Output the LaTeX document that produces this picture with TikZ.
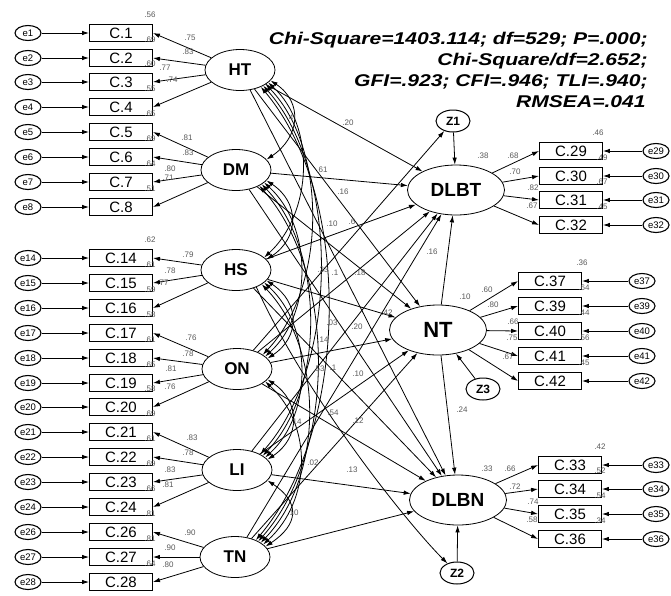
\documentclass[tikz,border=0pt]{standalone}
\usepackage{fontspec}
\setmainfont{Liberation Sans}
\usepackage{graphicx}
\usetikzlibrary{arrows.meta,shapes.geometric}
\begin{document}
\begin{tikzpicture}[x=1pt,y=-1pt,
  line width=0.8pt,
  arr/.style={-{Latex[length=7pt,width=4.5pt]}},
  cov/.style={{Latex[length=7pt,width=4.5pt]}-{Latex[length=7pt,width=4.5pt]}},
  ind/.style={draw,line width=0.9pt,minimum width=63pt,minimum height=17pt,inner sep=0pt,font=\fontsize{15}{15}\selectfont,fill=white},
  err/.style={draw,ellipse,line width=1.1pt,minimum width=26pt,minimum height=15pt,inner sep=0pt,font=\fontsize{9.5}{9.5}\selectfont,fill=white},
  lat/.style={draw,ellipse,line width=0.8pt,minimum width=70pt,minimum height=41pt,inner sep=0pt,font=\bfseries\fontsize{17}{17}\selectfont,fill=white},
  big/.style={lat,minimum width=97pt,minimum height=50pt,font=\bfseries\fontsize{19}{19}\selectfont},
  zz/.style={draw,ellipse,line width=1pt,minimum width=34pt,minimum height=22pt,inner sep=0pt,font=\bfseries\fontsize{12}{12}\selectfont,fill=white},
  sm/.style={font=\fontsize{8}{8}\selectfont,text=black!65,inner sep=0.5pt},
  stat/.style={anchor=base east,inner sep=0pt,font=\bfseries\itshape\fontsize{17}{17}\selectfont}
]
\useasboundingbox (0,0) rectangle (671,595);
% latent variables
\node[lat] (HT) at (240,70) {HT};
\node[lat] (DM) at (236,170) {DM};
\node[lat] (HS) at (236,270) {HS};
\node[lat] (ON) at (237,369) {ON};
\node[lat] (LI) at (237,470) {LI};
\node[lat] (TN) at (235,557) {TN};
\node[big] (DLBT) at (456,190) {DLBT};
\node[big,font=\bfseries\fontsize{22}{22}\selectfont] (NT) at (438,330) {NT};
\node[big] (DLBN) at (458,500) {DLBN};
\node[zz] (Z1) at (453,121) {Z1};
\node[zz] (Z2) at (457,573) {Z2};
\node[zz] (Z3) at (483,389) {Z3};
% left indicators
\foreach \n/\y/\q/\l in {1/33/.56/HT, 2/58/.69/HT, 3/82/.60/HT, 4/107/.55/HT, 5/132/.65/DM, 6/157/.69/DM, 7/182/.64/DM, 8/207/.51/DM, 14/258/.62/HS, 15/283/.61/HS, 16/308/.59/HS, 17/333/.58/ON, 18/358/.61/ON, 19/383/.65/ON, 20/407/.58/ON, 21/432/.69/LI, 22/457/.61/LI, 23/482/.69/LI, 24/507/.66/LI, 26/532/.81/TN, 27/557/.81/TN, 28/582/.64/TN}{
  \node[ind] (C\n) at (121,\y) {C.\n};
  \node[err] (e\n) at (28,\y) {e\n};
  \draw[arr] (e\n) -- (C\n.west);
  \draw[arr] (\l) -- (C\n.east);
  \node[sm] at (150,\y-18) {\q};
}
% right indicators
\foreach \n/\x/\y/\ex/\q/\l/\rx in {29/571/151/656/.46/DLBT/598, 30/571/176/656/.49/DLBT/602, 31/571/200/656/.67/DLBT/602, 32/571/225/656/.45/DLBT/602,
  37/550/281/642/.36/NT/582, 39/550/306/642/.64/NT/584, 40/550/331/642/.44/NT/584, 41/550/356/642/.56/NT/584, 42/550/381/642/.45/NT/584,
  33/570/465/656/.42/DLBN/600, 34/570/489/656/.52/DLBN/600, 35/570/514/656/.54/DLBN/600, 36/570/539/656/.34/DLBN/600}{
  \node[ind] (C\n) at (\x,\y) {C.\n};
  \node[err] (e\n) at (\ex,\y) {e\n};
  \draw[arr] (e\n) -- (C\n.east);
  \draw[arr] (\l) -- (C\n.west);
  \node[sm] at (\rx,\y-18) {\q};
}
% structural paths
\foreach \s in {HT,DM,HS,ON,LI,TN}{
  \foreach \t in {DLBT,NT,DLBN}{
    \draw[arr] (\s) -- (\t);
  }
}
\draw[arr] (NT) -- (DLBT);
\draw[arr] (NT) -- (DLBN);
\draw[arr] (Z1) -- (DLBT);
\draw[arr] (Z2) -- (DLBN);
\draw[arr] (Z3) -- (NT);
\draw[arr] (ON) -- (Z1);
\draw[arr] (HS.-40) .. controls +(50,110) and +(-50,-50) .. (Z2);
% covariances
\foreach \a/\b/\g [evaluate=\g as \kk using int(18+15*\g), evaluate=\g as \dd using int(22*\g), evaluate=\g as \sa using int(-14-5*\g), evaluate=\g as \ea using int(14+5*\g)] in {HT/DM/1, DM/HS/1, HS/ON/1, ON/LI/1, LI/TN/1, HT/HS/2, DM/ON/2, HS/LI/2, ON/TN/2, HT/ON/3, DM/LI/3, HS/TN/3, HT/LI/4, DM/TN/4, HT/TN/5}{
  \draw[cov] (\a.\sa) .. controls +(\kk,\dd) and +(\kk,-\dd) .. (\b.\ea);
}
% loading labels
\foreach \t/\x/\y in {.75/190/38, .83/188/52, .77/165/68, .74/172/80, .81/187/138, .83/188/153, .80/170/169, .71/168/178, .79/188/255, .78/170/271, .77/163/283, .76/191/338, .78/188/354, .81/171/369, .76/170/387, .83/192/438, .78/188/453, .83/170/470, .81/168/485, .90/190/533, .90/170/548, .80/168/565,
  .38/483/156, .68/513/156, .70/515/172, .82/533/188, .67/532/206, .10/465/297, .60/487/290, .80/493/305, .66/513/322, .75/512/338, .67/508/357, .33/487/469, .66/510/469, .72/515/487, .74/533/502, .58/532/520,
  .20/348/123, .4/290/118, .61/322/170, .16/343/192, .10/332/224, .6/352/222, .33/323/270, .1/335/273, .18/360/273, .16/432/252, .03/332/323, .20/357/327, .42/387/313, .14/323/340, .53/319/369, .1/333/368, .10/358/374, .54/333/413, .12/358/421, .14/296/422, .02/313/463, .13/352/470, .10/293/513, .24/462/410}{
  \node[sm] at (\x,\y) {\t};
}
% fit statistics
\node[stat] (s1) at (648,44) {\scalebox{1.24}[1]{Chi-Square=1403.114; df=529; P=.000;}};
\node[stat] (s2) at (648,65) {\scalebox{1.24}[1]{Chi-Square/df=2.652;}};
\node[stat] (s3) at (648,86) {\scalebox{1.24}[1]{GFI=.923; CFI=.946; TLI=.940;}};
\node[stat] (s4) at (646,107) {\scalebox{1.24}[1]{RMSEA=.041}};
\end{tikzpicture}
\end{document}
